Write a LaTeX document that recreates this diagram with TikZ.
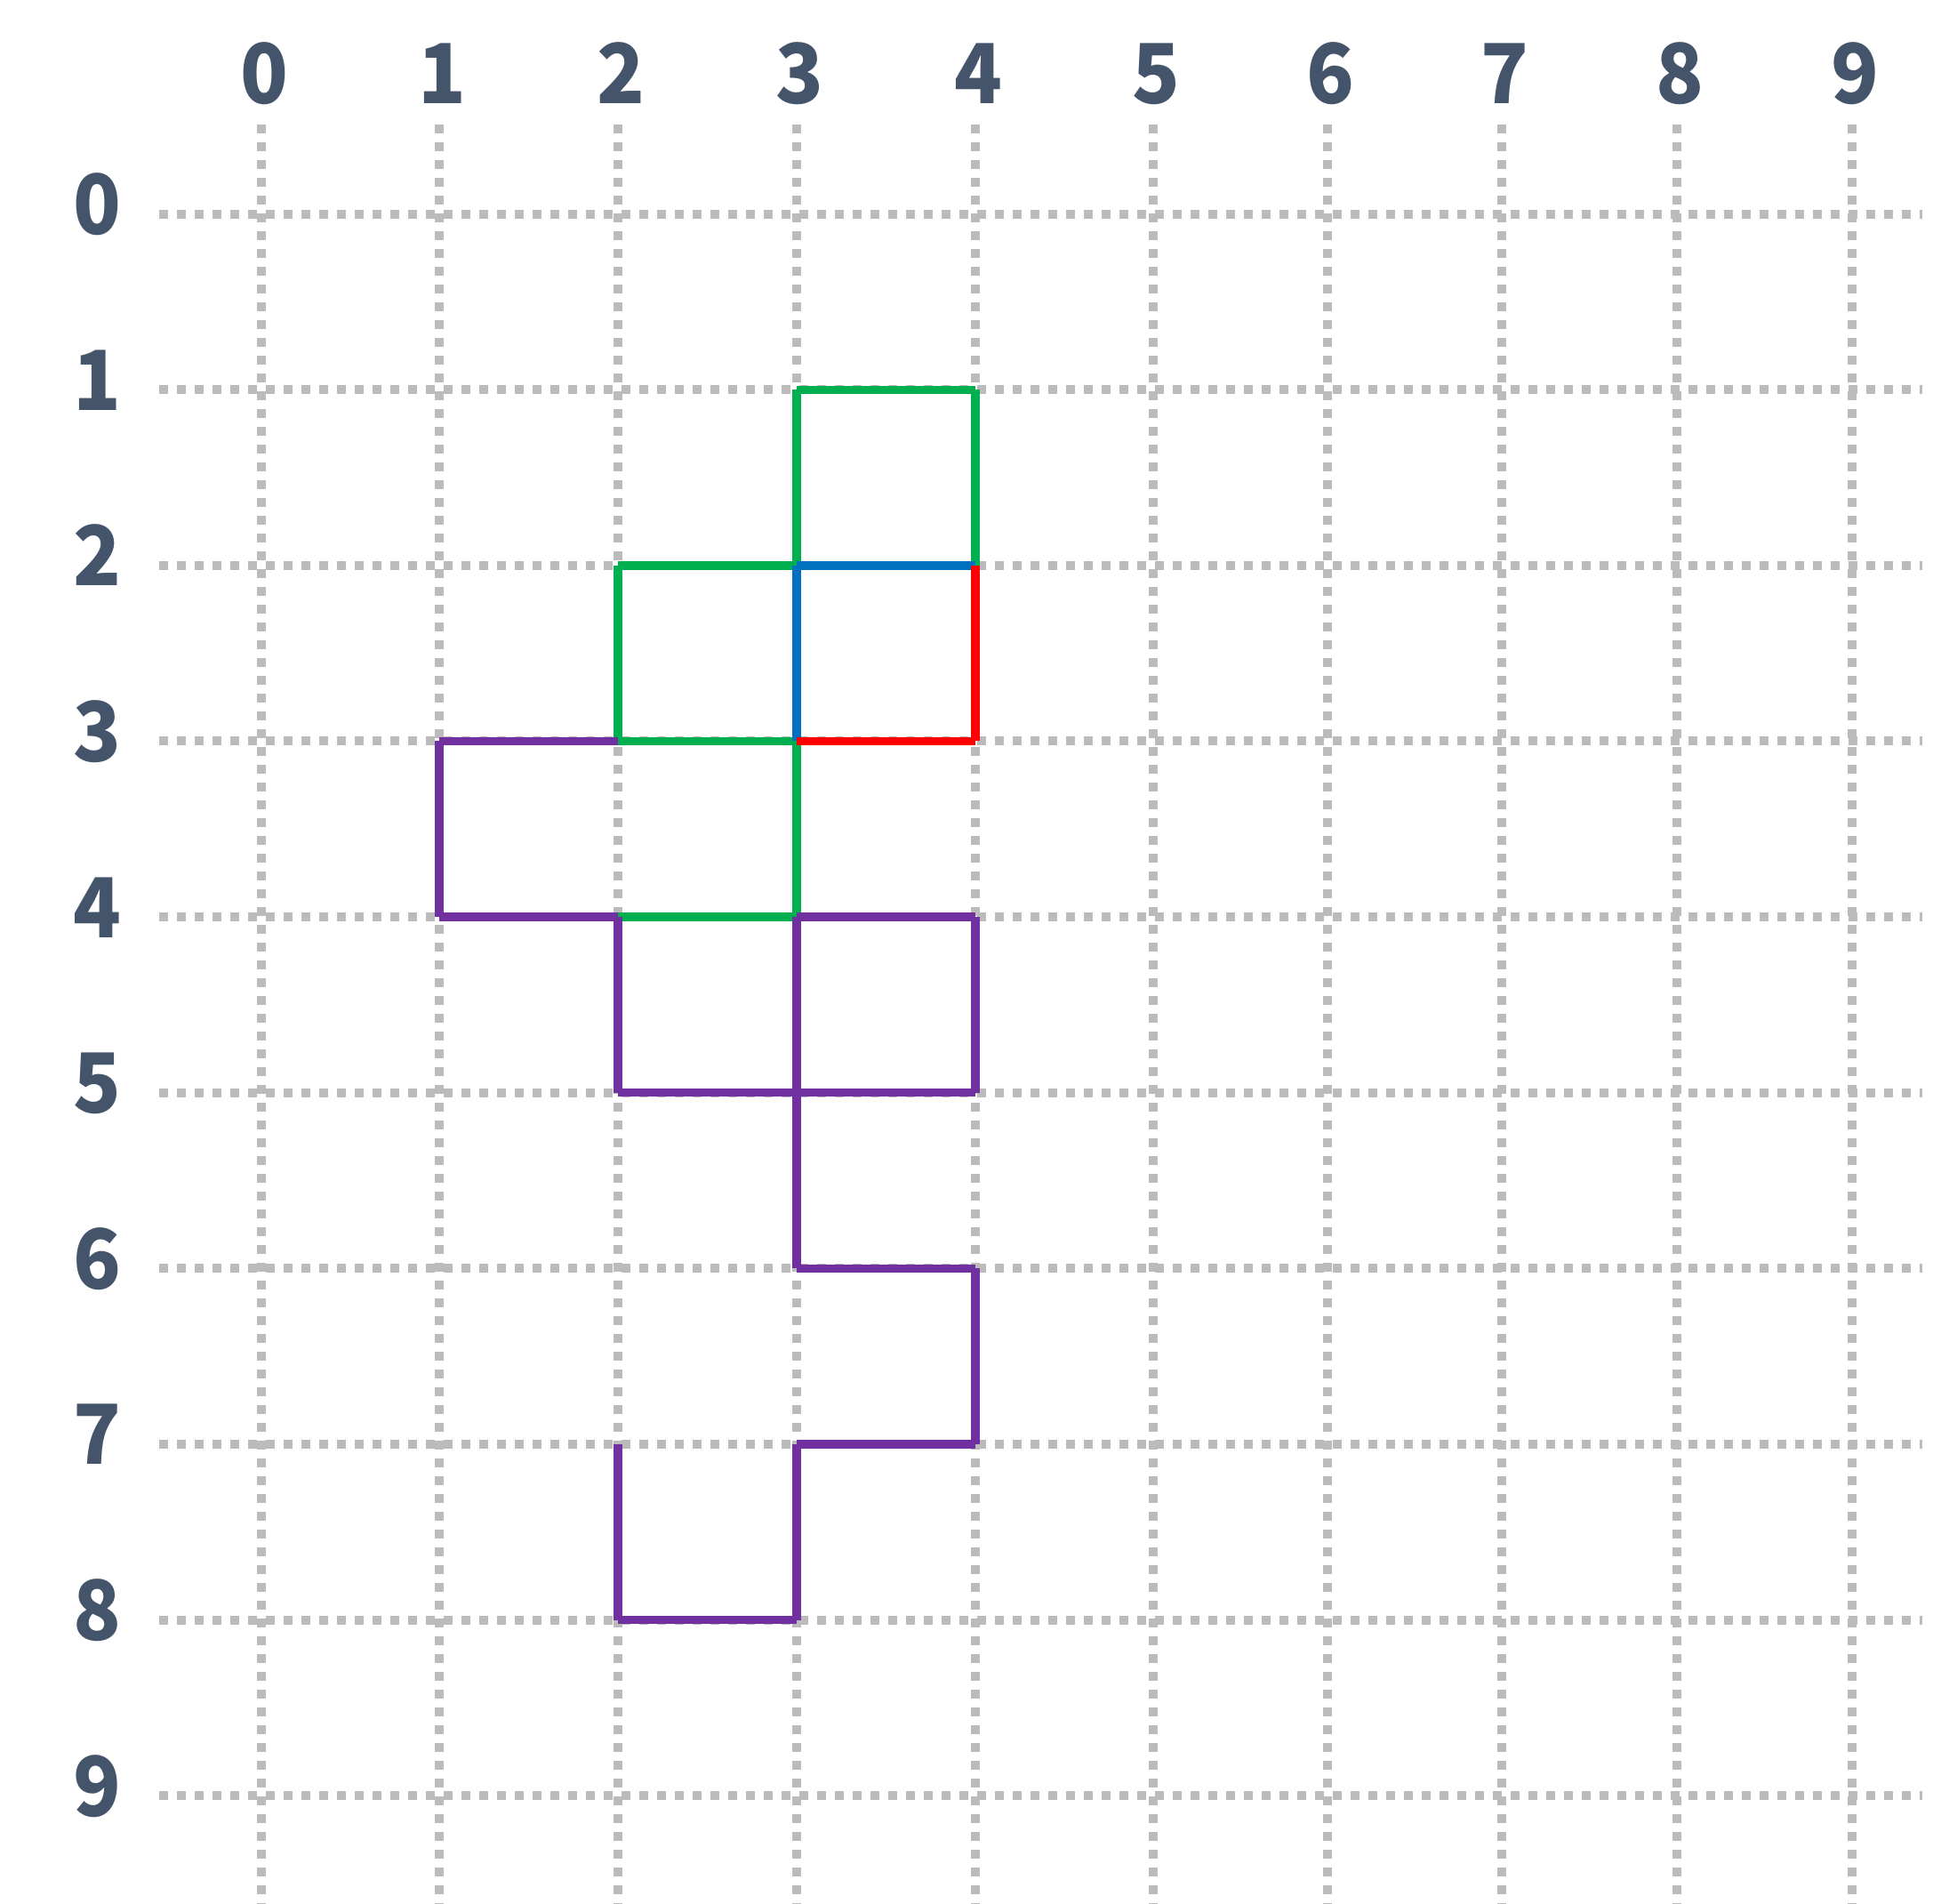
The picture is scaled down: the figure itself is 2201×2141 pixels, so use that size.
\documentclass[tikz,border=0pt]{standalone}
\usepackage{fontspec}
\newfontfamily\lblfont{Noto Sans CJK SC}
\definecolor{gridgray}{HTML}{BBBBBB}
\definecolor{lblcol}{HTML}{44546A}
\definecolor{cgreen}{HTML}{00B050}
\definecolor{cblue}{HTML}{0070C0}
\definecolor{cred}{HTML}{FF0000}
\definecolor{cpurple}{HTML}{7030A0}
\tikzset{
  gridline/.style={draw=gridgray, line width=1mm, dash pattern=on 1mm off 1mm},
  seg/.style={line width=0.95mm, line cap=butt},
  gseg/.style={seg, draw=cgreen},
  bseg/.style={seg, draw=cblue},
  rseg/.style={seg, draw=cred},
  pseg/.style={seg, draw=cpurple},
  lbl/.style={text=lblcol, font=\lblfont\bfseries\fontsize{26.5}{26.5}\selectfont, inner sep=0pt, anchor=base, xscale=0.95},
}
\begin{document}
\begin{tikzpicture}[x=0.1mm,y=-0.1mm]
\useasboundingbox (0,0) rectangle (2201,2141);
\fill[white] (0,0) rectangle (2201,2141);
% grid points
\foreach \x [count=\c from 0] in {294,494,695,896,1097,1297,1493,1689,1886,2083} {
  \foreach \r in {0,...,9} {
    \coordinate (p\c-\r) at (\x, {240.7+197.6*\r});
  }
  \coordinate (vt\c) at (\x,140);
  \coordinate (vb\c) at (\x,2141);
  \draw[gridline] (vt\c) -- (vb\c);
  \node[lbl] (cl\c) at (\x+3,117) {\c};
}
\foreach \r in {0,...,9} {
  \coordinate (hl\r) at (179, {240.7+197.6*\r});
  \coordinate (hr\r) at (2162, {240.7+197.6*\r});
  \draw[gridline] (hl\r) -- (hr\r);
  \node[lbl] (rl\r) at (109, {263.7+197.6*\r}) {\r};
}
% green
\draw[gseg] (p3-1) -- (p4-1);
\draw[gseg] (p4-1) -- (p4-2);
\draw[gseg] (p3-1) -- (p3-2);
\draw[gseg] (p2-2) -- (p3-2);
\draw[gseg] (p2-2) -- (p2-3);
\draw[gseg] (p2-3) -- (p3-3);
\draw[gseg] (p3-3) -- (p3-4);
\draw[gseg] (p2-4) -- (p3-4);
% blue
\draw[bseg] (p3-2) -- (p4-2);
\draw[bseg] (p3-2) -- (p3-3);
% red
\draw[rseg] (p4-2) -- (p4-3);
\draw[rseg] (p3-3) -- (p4-3);
% purple
\draw[pseg] (p1-3) -- (p2-3);
\draw[pseg] (p1-3) -- (p1-4);
\draw[pseg] (p1-4) -- (p2-4);
\draw[pseg] (p2-4) -- (p2-5);
\draw[pseg] (p2-5) -- (p3-5);
\draw[pseg] (p3-4) -- (p4-4);
\draw[pseg] (p3-4) -- (p3-5);
\draw[pseg] (p4-4) -- (p4-5);
\draw[pseg] (p3-5) -- (p4-5);
\draw[pseg] (p3-5) -- (p3-6);
\draw[pseg] (p3-6) -- (p4-6);
\draw[pseg] (p4-6) -- (p4-7);
\draw[pseg] (p3-7) -- (p4-7);
\draw[pseg] (p3-7) -- (p3-8);
\draw[pseg] (p2-8) -- (p3-8);
\draw[pseg] (p2-7) -- (p2-8);
\end{tikzpicture}
\end{document}
